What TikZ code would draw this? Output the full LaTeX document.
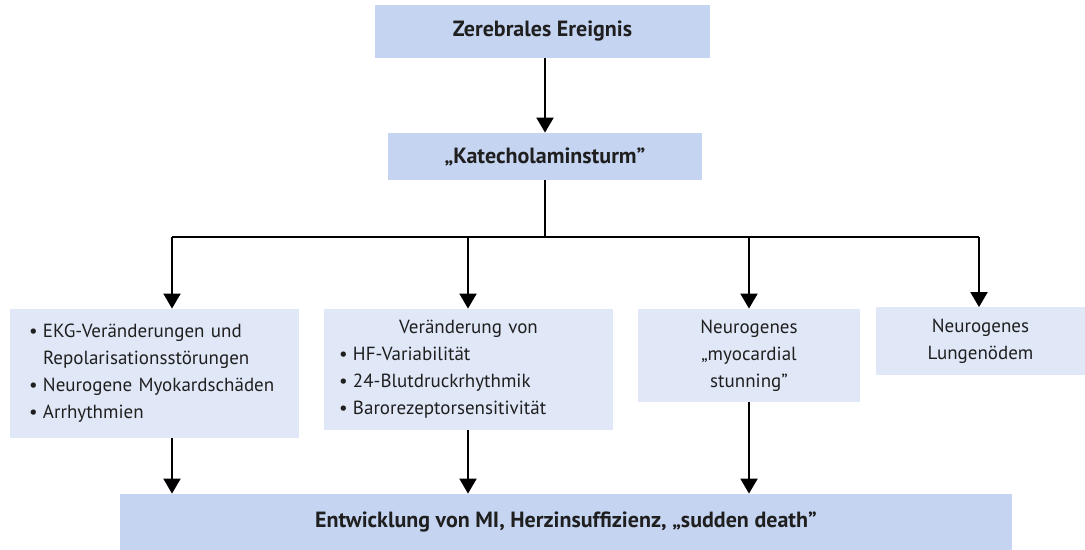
\documentclass[tikz,border=0pt]{standalone}
\usepackage{fontspec}
\setmainfont{PT Sans}
\usepackage{xcolor}
\usetikzlibrary{arrows.meta,positioning}

\definecolor{boxdark}{RGB}{197,212,241}
\definecolor{boxlight}{RGB}{224,232,248}
\newcommand{\blt}{\makebox[7pt][l]{\textbullet}}

\begin{document}
\begin{tikzpicture}[x=0.5pt, y=-0.5pt, text=black!88,
    font=\fontsize{9.5}{13.5}\selectfont,
    darkbox/.style={fill=boxdark, inner sep=0pt, font=\fontsize{11}{13.5}\selectfont\bfseries},
    lightbox/.style={fill=boxlight, inner ysep=0pt, align=center},
    arr/.style={-{Triangle[width=8.5pt,length=7.5pt]}, line width=1pt}]
    \useasboundingbox (0,0) rectangle (1085,550);

    \node[darkbox, minimum width=167.5pt, minimum height=26.5pt] (ereignis) at (542.5, 31.5) {Zerebrales Ereignis};
    \node[darkbox, minimum width=157pt, minimum height=23.5pt] (sturm) at (545, 156.5) {„Katecholaminsturm”};

    \node[lightbox, align=left, inner xsep=9.5pt, text width=125.5pt, minimum height=64.5pt] (ekg) at (154.5, 373.5)
      {\blt EKG-Veränderungen und\\ \hspace*{7pt}Repolarisationsstörungen\\ \blt Neurogene Myokardschäden\\ \blt Arrhythmien};
    \node[lightbox, align=left, inner xsep=7.5pt, text width=129.5pt, minimum height=60.5pt] (var) at (468.5, 369.5)
      {\hspace*{\fill}Veränderung von\hspace*{\fill}\mbox{}\\ \blt HF-Variabilität\\ \blt 24-Blutdruckrhythmik\\ \blt Barorezeptorsensitivität};
    \node[lightbox, inner xsep=0pt, minimum width=111pt, minimum height=46.5pt] (stun) at (749, 355.5)
      {Neurogenes\\„myocardial\\stunning”};
    \node[lightbox, inner xsep=0pt, minimum width=104.5pt, minimum height=33.5pt] (oedem) at (980.5, 341)
      {Neurogenes\\Lungenödem};

    \node[darkbox, minimum width=446pt, minimum height=28pt] (tod) at (566, 522)
      {Entwicklung von MI, Herzinsuffizienz, „sudden death”};

    % Verteiler
    \coordinate (b1) at (172, 237);
    \coordinate (b2) at (468, 237);
    \coordinate (b3) at (749, 237);
    \coordinate (b4) at (979, 237);

    \draw[arr] (sturm.north |- ereignis.south) -- (sturm.north);
    \draw[line width=1pt] (sturm.south) -- (sturm.south |- b1);
    \draw[line width=1pt] (b1) -- (b4);
    \foreach \b/\n in {b1/ekg, b2/var, b3/stun, b4/oedem}
      \draw[arr] (\b) -- (\b |- \n.north);

    \foreach \b/\n in {b1/ekg, b2/var, b3/stun}
      \draw[arr] (\b |- \n.south) -- (\b |- tod.north);
\end{tikzpicture}
\end{document}
